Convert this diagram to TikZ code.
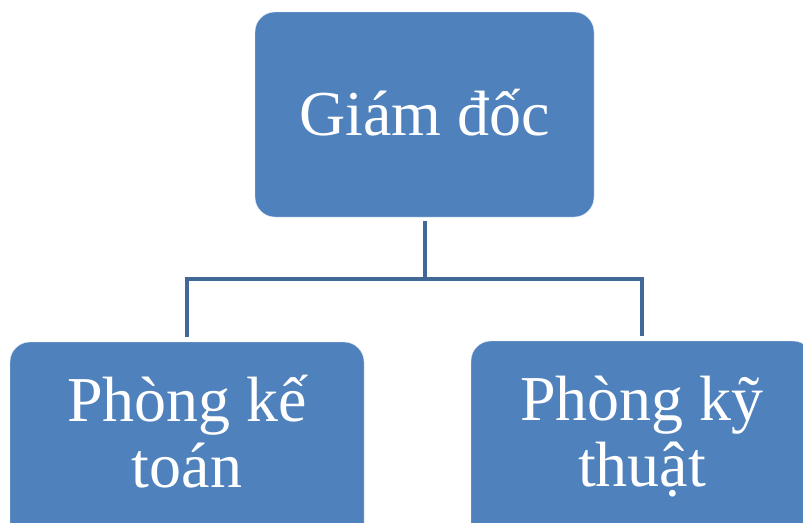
\documentclass[tikz,border=0pt]{standalone}
\usepackage{fontspec}
\setmainfont{Liberation Serif}
\usetikzlibrary{positioning}

\begin{document}
\begin{tikzpicture}[x=1pt,y=-1pt]

\definecolor{boxblue}{RGB}{79,129,189}
\definecolor{linkblue}{RGB}{65,104,150}

% Page frame
\useasboundingbox (0,0) rectangle (803,522);
\clip (0,0) rectangle (803,522);

\tikzset{
    org box/.style={
        fill=boxblue, draw=white!80!boxblue, thin,
        rectangle, rounded corners=20pt, inner sep=0pt,
        text=white, font=\fontsize{64}{66}\selectfont, align=center
    },
    dept box/.style={
        org box, minimum height=220pt, text height=100pt, text depth=30pt
    },
    link/.style={
        draw=linkblue, line width=4pt, shorten <=4pt, shorten >=5pt
    }
}

% Top level
\node[org box, minimum width=339pt, minimum height=205pt, text height=50pt, text depth=9pt] (GD) at (424.5,114.5) {Giám đốc};

% Departments
\node[dept box, minimum width=354pt] (KT) at (187,452) {Phòng kế\\toán};
\node[dept box, minimum width=342pt] (KyT) at (642,451) {Phòng kỹ\\thuật};

% Tree links
\draw[link] (GD.south) -- ++(0,62) -| (KT.north);
\draw[link] (GD.south) -- ++(0,62) -| (KyT.north);

\end{tikzpicture}
\end{document}
